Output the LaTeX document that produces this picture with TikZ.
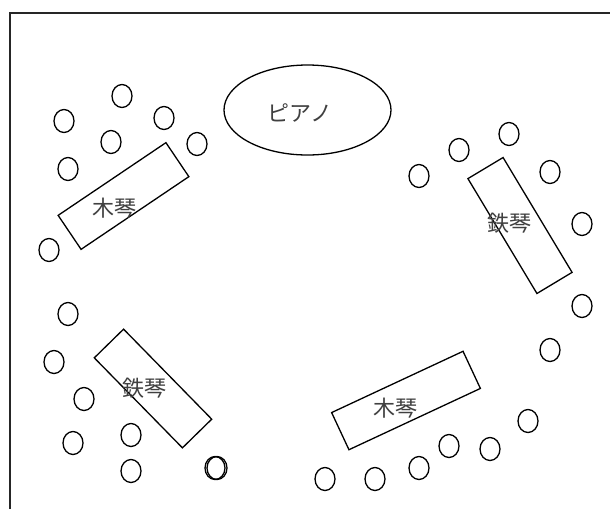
\documentclass[tikz,border=0pt]{standalone}
\usepackage{tikz}
\usetikzlibrary{positioning,shapes.geometric}
\usepackage{fontspec}
\newfontfamily\jpfont{Noto Sans CJK JP}

\begin{document}
\begin{tikzpicture}[x=1pt,y=-1pt,%
	seat/.style={draw,ellipse,line width=1.3pt,%
		minimum width=20pt,minimum height=23pt,inner sep=0pt},%
	desk/.style={draw,line width=1.3pt,minimum width=#1,%
		minimum height=41pt,inner sep=0pt},%
	lbl/.style={font=\jpfont\fontsize{22}{22}\selectfont,%
		text=black!75,inner sep=0pt}]
	\useasboundingbox (0,0) rectangle (610,509);
	\draw[line width=1.6pt,black!85] (10,509) -- (10,13) -- (610,13);
	
	\node[draw,ellipse,line width=1.3pt,minimum width=167pt,minimum height=90pt]%
		(piano) at (307.5,110) {};
	
	\node[desk=130pt,rotate=34] (mokkin1) at (123.5,196) {};
	\node[desk=134pt,rotate=-59] (tekkin1) at (520,225.5) {};
	\node[desk=126pt,rotate=-45.6] (tekkin2) at (153,388.5) {};
	\node[desk=145pt,rotate=25] (mokkin2) at (406,400.5) {};
	
	\node[lbl] (l0) at (300,113) {ピアノ};
	\node[lbl] (l1) at (114,208) {木琴};
	\node[lbl] (l2) at (509,223) {鉄琴};
	\node[lbl] (l3) at (144,388) {鉄琴};
	\node[lbl] (l4) at (395.5,408) {木琴};
	
	\foreach \x/\y [count=\i] in {122/96,64/121,164/118,111/142,197/144,68/169,49/250,%
		419/176,459/150,509/134,550/172,582/224,582/306,550/350,%
		68/314,54/362,84/399,73/443,131/435,131/471,215/468,217/468,%
		528/421,490/449,449/446,419/468,375/479,325/479}
		\node[seat] (s\i) at (\x,\y) {};
\end{tikzpicture}
\end{document}
